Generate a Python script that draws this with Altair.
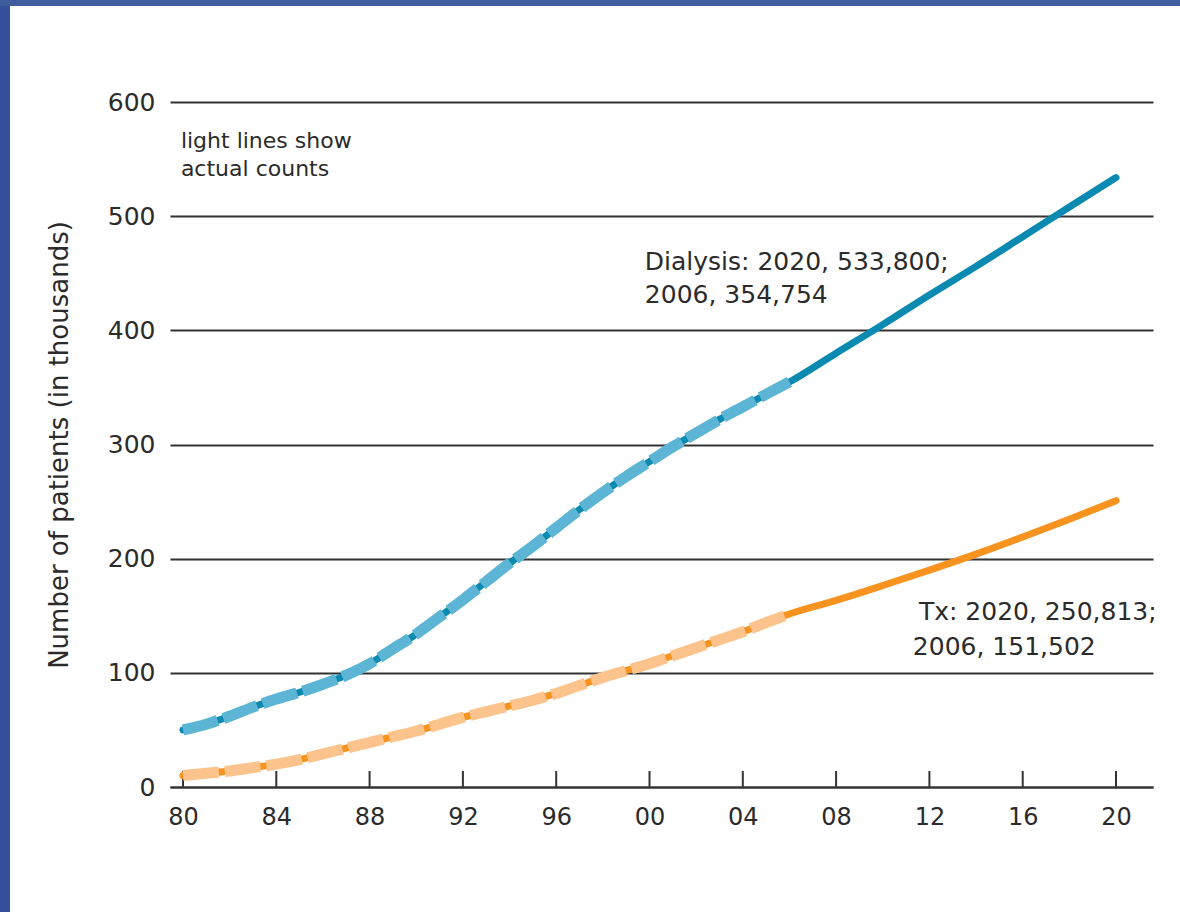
import altair as alt
import pandas as pd

# ---- data (thousands of patients) ----
years_actual = list(range(1980, 2007))
dialysis_actual = [50, 55, 62, 70, 77, 83, 90, 98, 108, 121, 134, 149, 164, 180,
                   196, 211, 227, 243, 258, 272, 285, 298, 310, 322, 333, 344, 354.754]
tx_actual = [10, 12, 14, 17, 20, 24, 29, 34, 39, 44, 49, 55, 61, 66,
             71, 76, 82, 89, 96, 102, 108, 115, 122, 129, 136, 144, 151.502]

years_proj = [2008, 2010, 2012, 2014, 2016, 2018, 2020]
dialysis_proj = [380, 405, 431, 456, 482, 508, 533.8]
tx_proj = [163.5, 176.5, 190, 204, 219, 234.5, 250.813]

tick_years = list(range(1980, 2021, 4))
y_ticks = [0, 100, 200, 300, 400, 500, 600]

FONT = "DejaVu Sans"
TXT = "#2b2b2b"
BLUE_D, BLUE_L = "#0a89b1", "#5db5d5"
ORANGE_D, ORANGE_L = "#f7931e", "#fcc48c"
FRAME_L = "#34509a"
FRAME_T = "#3f5c9e"

def frame(years, vals, series):
    return pd.DataFrame({"year": years, "value": vals, "series": series})

dial_model = frame(years_actual + years_proj, dialysis_actual + dialysis_proj, "Dialysis")
tx_model = frame(years_actual + years_proj, tx_actual + tx_proj, "Tx")
dial_act = frame(years_actual, dialysis_actual, "Dialysis")
tx_act = frame(years_actual, tx_actual, "Tx")
ticks_df = pd.DataFrame({"year": tick_years})

xs = alt.Scale(domain=[1979.443, 2021.586], nice=False, zero=False)
ys = alt.Scale(domain=[0, 600], nice=False)

xaxis = alt.Axis(values=tick_years, labelExpr="slice(toString(datum.value), 2)",
                 grid=False, ticks=False, tickSize=0, domainColor="#333333",
                 domainWidth=2, labelFont=FONT, labelFontSize=24, labelColor=TXT,
                 labelPadding=18, title=None, labelFlush=False)
yaxis = alt.Axis(values=y_ticks, grid=True, gridColor="#333333", gridWidth=2,
                 domain=False, ticks=False, tickSize=0, labelFont=FONT,
                 labelFontSize=25, labelColor=TXT, labelPadding=15,
                 title="Number of patients (in thousands)", titleFont=FONT,
                 titleFontSize=26, titleFontWeight="normal", titleColor=TXT,
                 titlePadding=35)

X = alt.X("year:Q", scale=xs, axis=xaxis)
Y = alt.Y("value:Q", scale=ys, axis=yaxis)

def model_line(df, color):
    return alt.Chart(df).mark_line(color=color, strokeWidth=7, strokeCap="round",
                                   interpolate="monotone").encode(x=X, y=Y)

def actual_line(df, color):
    return alt.Chart(df).mark_line(color=color, strokeWidth=11, strokeDash=[36, 6],
                                   interpolate="monotone").encode(x=X, y=Y)

ticks = alt.Chart(ticks_df).mark_rule(color="#333333", strokeWidth=2).encode(
    x=X, y=alt.datum(0), y2=alt.datum(14))

def label(text, x, y, size=25):
    return alt.Chart().mark_text(text=text, align="left", baseline="alphabetic",
                                 font=FONT, fontSize=size, color=TXT).encode(
        x=alt.datum(x), y=alt.datum(y))

notes = [
    label("light lines show", 1979.91, 559.7, 22),
    label("actual counts", 1979.91, 535.2, 22),
    label("Dialysis: 2020, 533,800;", 1999.80, 452.8),
    label("2006, 354,754", 1999.80, 423.9),
    label("Tx: 2020, 250,813;", 2011.55, 146.3),
    label("2006, 151,502", 2011.29, 115.6),
]

left_strip = alt.Chart().mark_rect(color=FRAME_L).encode(
    x=alt.value(-170), x2=alt.value(-160), y=alt.value(-102), y2=alt.value(810))
top_strip = alt.Chart().mark_rect(color=FRAME_T).encode(
    x=alt.value(-170), x2=alt.value(1010), y=alt.value(-102), y2=alt.value(-96))

chart = alt.layer(
    ticks,
    model_line(dial_model, BLUE_D),
    model_line(tx_model, ORANGE_D),
    actual_line(dial_act, BLUE_L),
    actual_line(tx_act, ORANGE_L),
    *notes,
    left_strip,
    top_strip,
).properties(
    width=983, height=685,
    autosize=alt.AutoSizeParams(type="none"),
    padding={"left": 170, "top": 102, "right": 27, "bottom": 125},
    background="white",
).configure_view(stroke=None)

chart.save("out.html", embed_options={"renderer": "svg", "actions": False})
